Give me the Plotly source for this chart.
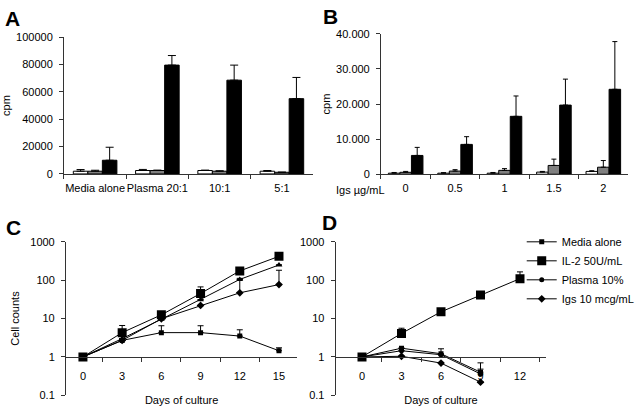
import plotly.graph_objects as go

W, H = 640, 410
FONT = "Liberation Sans, Arial, sans-serif"
AX = "#333333"

# ---------------- data ----------------
a_categories = ["Media alone", "Plasma 20:1", "10:1", "5:1"]
a_white = [2000, 2500, 2500, 2000]
a_white_err = [1200, 800, 300, 500]
a_grey = [2000, 2500, 2000, 1200]
a_grey_err = [700, 300, 300, 100]
a_black = [10000, 79500, 68500, 55000]
a_black_err = [9500, 7000, 11000, 15500]
a_yticks = [0, 20000, 40000, 60000, 80000, 100000]
a_yticktext = ["0", "20000", "40000", "60000", "80000", "100000"]

b_categories = ["0", "0.5", "1", "1.5", "2"]
b_white = [300, 300, 300, 600, 800]
b_white_err = [200, 150, 200, 200, 200]
b_grey = [550, 900, 1100, 2500, 2000]
b_grey_err = [250, 400, 500, 1800, 1900]
b_black = [5350, 8500, 16500, 19700, 24200]
b_black_err = [2300, 2200, 5800, 7400, 13600]
b_yticks = [0, 10000, 20000, 30000, 40000]
b_yticktext = ["0", "10.000", "20.000", "30.000", "40.000"]

c_days = [0, 3, 6, 9, 12, 15]
c_media = [1, 2.7, 4.3, 4.3, 3.5, 1.45]
c_media_err = [0, 0, 2.2, 2.2, 1.6, 0.28]
c_il2 = [1, 4.3, 12.5, 45, 175, 420]
c_il2_err = [0, 2.3, 1.5, 22, 0, 0]
c_plasma = [1, 3.0, 9.6, 31, 105, 250]
c_plasma_err = [0, 0, 0, 0, 0, 0]
c_igs = [1, 2.7, 9.9, 22, 47, 77]
c_igs_err = [0, 0, 0, 0, 65, 105]
c_minor = [1.5, 4.5, 7.5, 10.5, 13.5]

d_days = [0, 3, 6, 9, 12]
d_media = [1, 1.69, 1.21, 0.40, None]
d_media_err = [0, 0, 0.42, 0.30, 0]
d_il2 = [1, 4.1, 15, 41, 110]
d_il2_err = [0, 1.5, 0, 0, 55]
d_plasma = [1, 1.45, 1.14, 0.36, None]
d_plasma_err = [0, 0, 0, 0.12, 0]
d_igs = [1, 1.04, 0.69, 0.22, None]
d_igs_err = [0, 0, 0, 0, 0]
d_minor = [1.5, 4.5, 7.5, 10.5, 13.5]

log_ticks = [0.1, 1, 10, 100, 1000]
log_ticktext = ["0.1", "1", "10", "100", "1000"]

series_names = ["Media alone", "IL-2 50U/mL", "Plasma 10%", "Igs 10 mcg/mL"]


def px_x(p):
    return p / W


def px_y(p):
    return 1 - p / H


def up_err(arr, w=3):
    return dict(type="data", array=arr, arrayminus=[0] * len(arr), symmetric=False,
                color="black", thickness=1, width=w, visible=True)


fig = go.Figure()

# ---------------- panel A ----------------
for vals, errs, col in [(a_white, a_white_err, "white"), (a_grey, a_grey_err, "#808080"),
                        (a_black, a_black_err, "black")]:
    fig.add_trace(go.Bar(x=a_categories, y=vals, marker=dict(color=col, line=dict(color="black", width=1)),
                         error_y=up_err(errs, 4), xaxis="x", yaxis="y", showlegend=False))

# ---------------- panel B ----------------
for vals, errs, col in [(b_white, b_white_err, "white"), (b_grey, b_grey_err, "#808080"),
                        (b_black, b_black_err, "black")]:
    fig.add_trace(go.Bar(x=b_categories, y=vals, marker=dict(color=col, line=dict(color="black", width=1)),
                         error_y=up_err(errs, 2.5), xaxis="x2", yaxis="y2", showlegend=False))

# ---------------- panel C ----------------
c_specs = [(c_media, c_media_err, "square", 5), (c_il2, c_il2_err, "square", 9),
           (c_plasma, c_plasma_err, "triangle-up", 6), (c_igs, c_igs_err, "diamond", 6)]
for (vals, errs, sym, size), name in zip(c_specs, series_names):
    fig.add_trace(go.Scatter(x=c_days, y=vals, mode="lines+markers", name=name,
                             line=dict(color="black", width=1),
                             marker=dict(symbol=sym, size=size, color="black"),
                             error_y=up_err(errs, 3), xaxis="x3", yaxis="y3", showlegend=False))

# ---------------- panel D ----------------
d_specs = [(d_media, d_media_err, "square", 5), (d_il2, d_il2_err, "square", 9),
           (d_plasma, d_plasma_err, "circle", 5), (d_igs, d_igs_err, "diamond", 6)]
for (vals, errs, sym, size), name in zip(d_specs, series_names):
    fig.add_trace(go.Scatter(x=d_days, y=vals, mode="lines+markers", name=name,
                             line=dict(color="black", width=1),
                             marker=dict(symbol=sym, size=size, color="black"),
                             error_y=up_err(errs, 3), xaxis="x4", yaxis="y4", showlegend=True))

FS = 11
tickfont = dict(family=FONT, size=FS, color="black")
titlefont = dict(family=FONT, size=FS, color="black")

log_dom = [px_y(401), px_y(243)]
x_pos_at_one = log_dom[0] + 0.25 * (log_dom[1] - log_dom[0])

fig.update_layout(
    width=W, height=H, margin=dict(l=0, r=0, t=0, b=0),
    paper_bgcolor="white", plot_bgcolor="white",
    font=dict(family=FONT, size=FS, color="black"),
    barmode="group", bargap=0.3, bargroupgap=0,
    # A
    xaxis=dict(domain=[px_x(65), px_x(318)], anchor="y", type="category", showline=True,
               linecolor=AX, linewidth=1, ticks="outside", tickson="boundaries", ticklen=4,
               tickcolor=AX, tickfont=tickfont, tickangle=0, showgrid=False,
               ticklabelstandoff=4),
    yaxis=dict(domain=[px_y(173), px_y(32)], anchor="x", range=[0, 100000], showline=True,
               linecolor=AX, linewidth=1, ticks="outside", ticklen=4, tickcolor=AX,
               tickvals=a_yticks, ticktext=a_yticktext, tickfont=tickfont, showgrid=False,
               ticklabelstandoff=4,
               zeroline=False, title=dict(text="cpm", font=titlefont, standoff=5)),
    # B
    xaxis2=dict(domain=[px_x(387), px_x(638)], anchor="y2", type="category", showline=True,
                linecolor=AX, linewidth=1, ticks="outside", tickson="boundaries", ticklen=4,
                tickcolor=AX, tickfont=tickfont, tickangle=0, showgrid=False,
                ticklabelstandoff=4),
    yaxis2=dict(domain=[px_y(173.3), px_y(28.7)], anchor="x2", range=[0, 40000], showline=True,
                linecolor=AX, linewidth=1, ticks="outside", ticklen=4, tickcolor=AX,
                tickvals=b_yticks, ticktext=b_yticktext, tickfont=tickfont, showgrid=False,
                ticklabelstandoff=4,
                zeroline=False, title=dict(text="cpm", font=titlefont, standoff=3)),
    # C
    xaxis3=dict(domain=[px_x(67), px_x(302)], anchor="free", position=x_pos_at_one,
                range=[-1.3, 16.4], showline=True, linecolor=AX, linewidth=1,
                tickvals=c_days, ticks="", ticklabelstandoff=9, tickfont=tickfont, showgrid=False,
                zeroline=False,
                minor=dict(tickvals=c_minor, ticks="outside", ticklen=4, tickcolor=AX, showgrid=False),
                title=dict(text="Days of culture", font=titlefont, standoff=15)),
    yaxis3=dict(domain=log_dom, anchor="x3", type="log", range=[-1, 3], showline=True,
                linecolor=AX, linewidth=1, ticks="outside", ticklen=4, tickcolor=AX,
                tickvals=log_ticks, ticktext=log_ticktext, tickfont=tickfont, showgrid=False,
                ticklabelstandoff=4,
                zeroline=False, title=dict(text="Cell counts", font=titlefont, standoff=8)),
    # D
    xaxis4=dict(domain=[px_x(341), px_x(555)], anchor="free", position=x_pos_at_one,
                range=[-2, 14], showline=True, linecolor=AX, linewidth=1,
                tickvals=d_days, ticks="", ticklabelstandoff=9, tickfont=tickfont, showgrid=False,
                zeroline=False,
                minor=dict(tickvals=d_minor, ticks="outside", ticklen=4, tickcolor=AX, showgrid=False),
                title=dict(text="Days of culture", font=titlefont, standoff=15)),
    yaxis4=dict(domain=log_dom, anchor="x4", type="log", range=[-1, 3], showline=True,
                linecolor=AX, linewidth=1, ticks="outside", ticklen=4, tickcolor=AX,
                tickvals=log_ticks, ticktext=log_ticktext, tickfont=tickfont, showgrid=False,
                ticklabelstandoff=4,
                zeroline=False),
    legend=dict(x=px_x(530), y=px_y(228), xanchor="left", yanchor="top",
                font=dict(family=FONT, size=FS, color="black"), tracegroupgap=0,
                bgcolor="rgba(0,0,0,0)", itemwidth=30),
)

# panel letters and extra label
letters = [("A", 3, 13), ("B", 326, 11), ("C", 4, 228), ("D", 325, 223)]
for txt, lx, ly in letters:
    fig.add_annotation(text="<b>%s</b>" % txt, x=px_x(lx), y=px_y(ly), xref="paper", yref="paper",
                       xanchor="left", yanchor="middle", showarrow=False,
                       font=dict(family=FONT, size=21, color="black"))

fig.add_annotation(text="Igs µg/mL", x=px_x(393), y=px_y(190), xref="paper", yref="paper",
                   xanchor="right", yanchor="middle", showarrow=False,
                   font=dict(family=FONT, size=FS, color="black"))

fig.write_html("out.html", config={"displayModeBar": False},
               post_script="document.body.style.margin='0';")
